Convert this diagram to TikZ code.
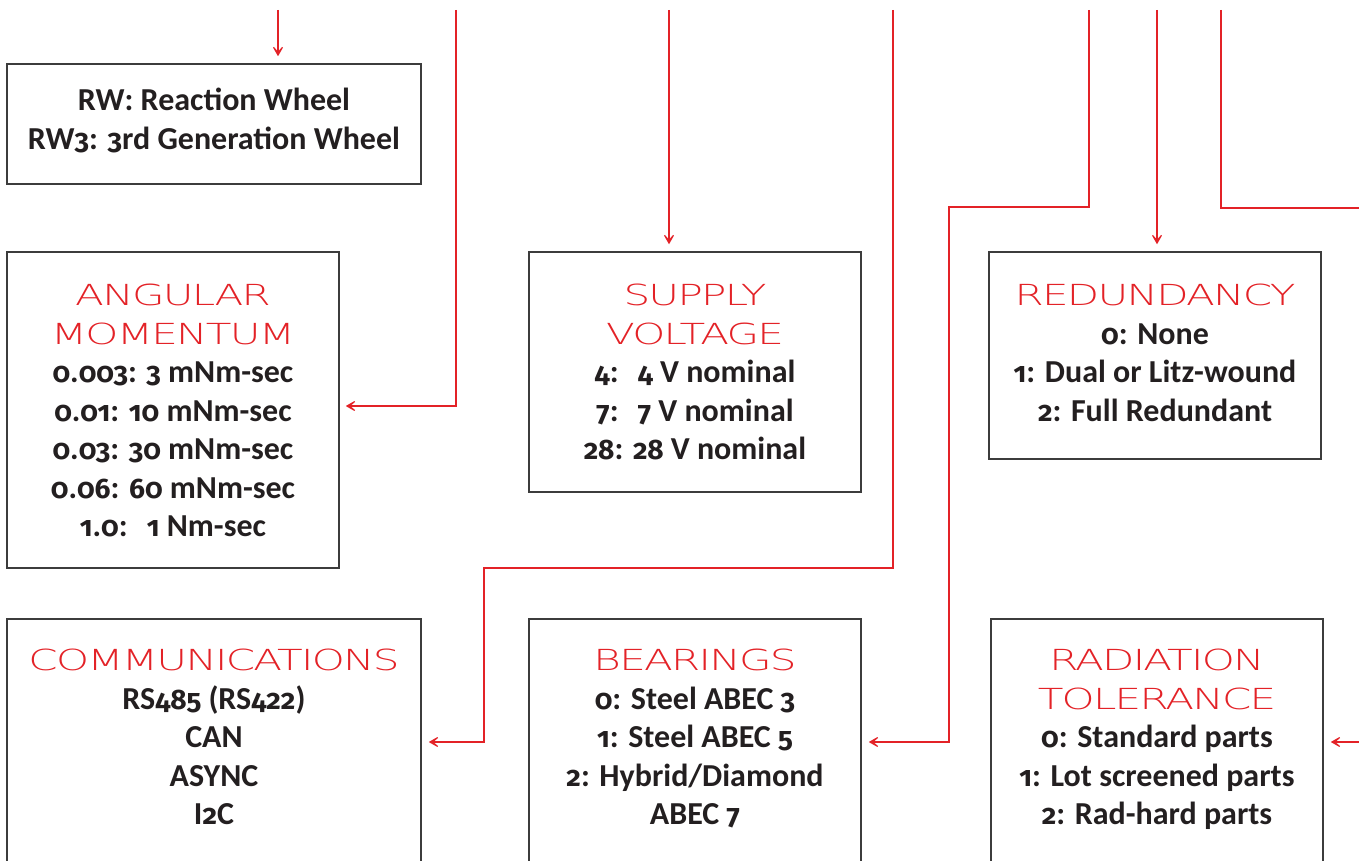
\documentclass[tikz,border=0pt]{standalone}
\usepackage{fontspec}
\setmainfont{Carlito}
\newfontfamily\ttlfont{DejaVu Sans ExtraLight}[FakeStretch=1.45, LetterSpace=-6]
\newfontfamily\digitfont{Fira Sans}[Numbers=OldStyle, Scale=0.88]
\XeTeXinterchartokenstate=1
\newXeTeXintercharclass\digitclass
\XeTeXcharclass`0=\digitclass
\XeTeXcharclass`1=\digitclass
\XeTeXcharclass`2=\digitclass
\XeTeXcharclass`3=\digitclass
\XeTeXcharclass`4=\digitclass
\XeTeXcharclass`5=\digitclass
\XeTeXcharclass`6=\digitclass
\XeTeXcharclass`7=\digitclass
\XeTeXcharclass`8=\digitclass
\XeTeXcharclass`9=\digitclass
\XeTeXinterchartoks 0 \digitclass = {\begingroup\digitfont}
\XeTeXinterchartoks 4095 \digitclass = {\begingroup\digitfont}
\XeTeXinterchartoks \digitclass 0 = {\endgroup}
\XeTeXinterchartoks \digitclass 4095 = {\endgroup}
\usetikzlibrary{arrows.meta,calc}
\definecolor{rwred}{HTML}{E32227}
\definecolor{boxgray}{HTML}{3C3C3C}
\definecolor{txtdark}{HTML}{231F20}
\newcommand\ttl[1]{{\ttlfont\mdseries\fontsize{29}{29}\selectfont\color{rwred}#1}}
\newcommand\putlines[4]{\foreach \t [count=\i] in {#4}{\node[txt, anchor=base] (#1\i) at (#2, {#3+(\i-1)*38.5}) {\t};}}
\begin{document}
\begin{tikzpicture}[x=1pt,y=-1pt,
  panel/.style={draw=boxgray, line width=1.5pt, fill=none, inner sep=0pt},
  txt/.style={font=\bfseries\fontsize{32}{32}\selectfont, text=txtdark, inner sep=0pt},
  wire/.style={draw=rwred, line width=1.3pt},
  arr/.style={wire, -{Stealth[length=14pt, width=16pt, inset=9.5pt]}, shorten >=7pt}]
\useasboundingbox (0,0) rectangle (1359,861);
\clip (0,0) rectangle (1359,861);

% boxes
\node[panel, minimum width=414pt, minimum height=120pt] (rw) at (214,124) {};
\node[panel, minimum width=332pt, minimum height=316pt] (am) at (173,410) {};
\node[panel, minimum width=332pt, minimum height=240pt] (sv) at (695,372) {};
\node[panel, minimum width=332pt, minimum height=207pt] (rd) at (1155,355.5) {};
\node[panel, minimum width=414pt, minimum height=271pt] (cm) at (214,754.5) {};
\node[panel, minimum width=332pt, minimum height=271pt] (bg) at (695,754.5) {};
\node[panel, minimum width=332pt, minimum height=271pt] (rt) at (1157,754.5) {};

% texts
\putlines{rwt}{214}{110.7}{RW: Reaction Wheel, RW3: 3rd Generation Wheel}
\putlines{amt}{173}{305.5}{\ttl{ANGULAR}, \ttl{MOMENTUM}, 0.003: 3 mNm-sec, 0.01: 10 mNm-sec, 0.03: 30 mNm-sec, 0.06: 60 mNm-sec, 1.0:\hspace{0.6em}1 Nm-sec}
\putlines{svt}{695}{305.5}{\ttl{SUPPLY}, \ttl{VOLTAGE}, 4:\hspace{0.6em}4 V nominal, 7:\hspace{0.6em}7 V nominal, 28: 28 V nominal}
\putlines{rdt}{1155}{305.5}{\ttl{REDUNDANCY}, 0: None, 1: Dual or Litz-wound, 2: Full Redundant}
\putlines{cmt}{214}{670.7}{\ttl{COMMUNICATIONS}, RS485 (RS422), CAN, ASYNC, I2C}
\putlines{bgt}{695}{670.7}{\ttl{BEARINGS}, 0: Steel ABEC 3, 1: Steel ABEC 5, 2: Hybrid/Diamond, ABEC 7}
\putlines{rtt}{1157}{670.7}{\ttl{RADIATION}, \ttl{TOLERANCE}, 0: Standard parts, 1: Lot screened parts, 2: Rad-hard parts}

% connector ends
\coordinate (t1) at (278,10);
\coordinate (t2) at (456,10);
\coordinate (t3) at (669,10);
\coordinate (t4) at (1157,10);
\coordinate (t5) at (893,10);
\coordinate (b5) at (484,568);
\coordinate (t6) at (1089,10);
\coordinate (b6) at (949,207);
\coordinate (t7) at (1221,10);
\coordinate (e7) at (1370,208);
\coordinate (t8) at (1370,742);

% connectors
\draw[arr] (t1) -- (t1 |- rw.north);
\draw[arr, shorten >=6pt] (t2) |- (am.east |- 0,406);
\draw[arr] (t3) -- (t3 |- sv.north);
\draw[arr] (t4) -- (t4 |- rd.north);
\draw[arr] (t5) |- (b5) |- (cm.east |- 0,742);
\draw[arr] (t6) |- (b6) |- (bg.east |- 0,742);
\draw[wire] (t7) |- (e7);
\draw[arr] (t8) -- (rt.east |- 0,742);
\end{tikzpicture}
\end{document}
